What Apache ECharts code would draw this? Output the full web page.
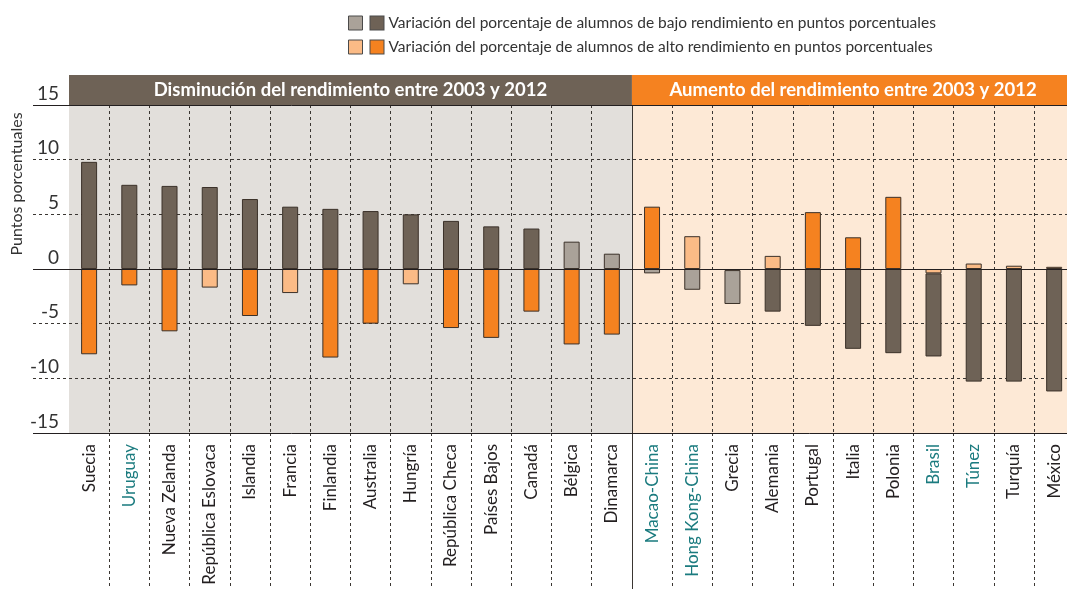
<!DOCTYPE html>
<html>
<head>
    <meta charset="utf-8">
    <title>Variación de alumnos de bajo y alto rendimiento 2003-2012</title>
    <script src="https://cdn.jsdelivr.net/npm/echarts@6.0.0/dist/echarts.min.js"></script>
    <style>
        html, body { margin: 0; padding: 0; background: #fff; }
        #main { width: 1067px; height: 589px; }
    </style>
</head>
<body>
<div id="main"></div>
<script>
    // datos
    var paises = ['Suecia', 'Uruguay', 'Nueva Zelanda', 'República Eslovaca', 'Islandia', 'Francia',
        'Finlandia', 'Australia', 'Hungría', 'República Checa', 'Países Bajos', 'Canadá', 'Bélgica',
        'Dinamarca', 'Macao-China', 'Hong Kong-China', 'Grecia', 'Alemania', 'Portugal', 'Italia',
        'Polonia', 'Brasil', 'Túnez', 'Turquía', 'México'];
    var paisesAsociados = ['Uruguay', 'Macao-China', 'Hong Kong-China', 'Brasil', 'Túnez'];
    var bajo = [9.8, 7.7, 7.6, 7.5, 6.4, 5.7, 5.5, 5.3, 5.0, 4.4, 3.9, 3.7, 2.5, 1.4,
        -0.4, -1.9, -3.1, -3.9, -5.2, -7.3, -7.7, -7.6, -10.3, -10.3, -11.2];
    var bajoSignif = [1, 1, 1, 1, 1, 1, 1, 1, 1, 1, 1, 1, 0, 0,
        0, 0, 0, 1, 1, 1, 1, 1, 1, 1, 1];
    var alto = [-7.8, -1.5, -5.7, -1.7, -4.3, -2.2, -8.1, -5.0, -1.4, -5.4, -6.3, -3.9, -6.9, -6.0,
        5.7, 3.0, -0.1, 1.2, 5.2, 2.9, 6.6, -0.4, 0.5, 0.3, 0.2];
    var altoSignif = [1, 1, 1, 0, 1, 0, 1, 1, 0, 1, 1, 1, 1, 1,
        1, 0, 1, 0, 1, 1, 1, 0, 0, 0, 0];
    var nDisminucion = 14;   // paises del primer panel
    var paneles = ['Disminución del rendimiento entre 2003 y 2012', 'Aumento del rendimiento entre 2003 y 2012'];
    var leyenda = ['Variación del porcentaje de alumnos de bajo rendimiento en puntos porcentuales',
        'Variación del porcentaje de alumnos de alto rendimiento en puntos porcentuales'];
    var yMin = -15, yMax = 15, yPaso = 5;

    var colBajo = ['#6e6256', '#aaa299'];
    var colAlto = ['#f58220', '#fbbb86'];
    var fuente = 'Lato';
    var guiones = { color: '#3a3632', width: 1, type: [3, 3] };

    function puntos(valores, signif, colores, desde, hasta) {
        return valores.slice(desde, hasta).map(function (v, i) {
            return { value: v, itemStyle: { color: signif[desde + i] ? colores[0] : colores[1] } };
        });
    }

    var catL = paises.slice(0, nDisminucion);
    var catR = paises.slice(nDisminucion);
    var anchoCat = 40.21;
    var xL = 69, xR = xL + catL.length * anchoCat;

    var myChart = echarts.init(document.getElementById('main'));

    function ejeCat(datos, gi, etiquetas) {
        return {
            type: 'category', gridIndex: gi, data: datos,
            axisLine: { show: false }, axisTick: { show: false },
            axisLabel: {
                show: etiquetas, rotate: 90, margin: 11, fontSize: 17, fontFamily: fuente,
                color: function (v) { return paisesAsociados.indexOf(v) >= 0 ? '#1b7b7f' : '#231f20'; }
            },
            splitLine: { show: true, showMinLine: false, lineStyle: guiones }
        };
    }

    var barra = { type: 'bar', barWidth: 16, itemStyle: { borderColor: '#3b3129', borderWidth: 1 } };
    var sinLimite = { outerBoundsMode: 'none', containLabel: false };

    var option = {
        animation: false,
        grid: [
            { left: 33, top: 105, width: 1041, height: 328 },                  // marco
            { left: xL, top: 105, width: xR - xL, height: 328, show: true, backgroundColor: '#e2dfdb', borderWidth: 0 },
            { left: xR, top: 105, width: catR.length * anchoCat, height: 328, show: true, backgroundColor: '#fde9d6', borderWidth: 0 },
            { left: xL, top: 433, width: xR - xL, height: 156 },
            { left: xR, top: 433, width: catR.length * anchoCat, height: 156 },
            { left: xL, top: 75, width: paises.length * anchoCat, height: 30 }    // cabeceras
        ].map(function (g) { return echarts.util.extend(g, sinLimite); }),
        legend: {
            orient: 'vertical', left: 348, top: 15, padding: 0, itemGap: 8, itemWidth: 14, itemHeight: 14,
            icon: 'rect', selectedMode: false,
            data: [
                { name: 'bajo', itemStyle: { color: colBajo[1], borderColor: '#4a4a4a', borderWidth: 1 } },
                { name: 'alto', itemStyle: { color: colAlto[1], borderColor: '#4a4a4a', borderWidth: 1 } }
            ],
            formatter: function (n) {
                return n === 'bajo' ? '{g|}{b|}{h|}' + leyenda[0] : '{g|}{a|}{h|}' + leyenda[1];
            },
            textStyle: {
                fontSize: 15.5, fontFamily: fuente, color: '#333',
                rich: {
                    g: { width: 3 },
                    h: { width: 5 },
                    b: { width: 13, height: 13, backgroundColor: colBajo[0], borderColor: '#4a4a4a', borderWidth: 1 },
                    a: { width: 13, height: 13, backgroundColor: colAlto[0], borderColor: '#4a4a4a', borderWidth: 1 }
                }
            }
        },
        xAxis: [
            { type: 'value', gridIndex: 0, min: 0, max: 1, show: false },
            ejeCat(catL, 1, true),
            ejeCat(catR, 2, true),
            ejeCat(catL, 3, false),
            ejeCat(catR, 4, false),
            { type: 'value', gridIndex: 5, min: 0, max: paises.length, show: false }
        ],
        yAxis: [
            {
                type: 'value', gridIndex: 0, min: yMin, max: yMax, interval: yPaso,
                axisLabel: { show: false }, axisLine: { show: false }, axisTick: { show: false },
                splitLine: { show: true, showMinLine: false, showMaxLine: false, lineStyle: guiones },
                name: 'Puntos porcentuales', nameLocation: 'middle', nameGap: 8,
                nameTextStyle: { fontSize: 16, fontFamily: fuente, color: '#333', padding: [0, 0, 0, 170] }
            },
            {
                type: 'value', gridIndex: 1, min: yMin, max: yMax, interval: yPaso,
                axisLine: { show: false }, axisTick: { show: false }, splitLine: { show: false },
                axisLabel: { margin: 10, fontSize: 19, fontFamily: fuente, color: '#333', verticalAlign: 'bottom', padding: [0, 0, 2, 0] }
            },
            {
                type: 'value', gridIndex: 2, min: yMin, max: yMax, interval: yPaso,
                axisLabel: { show: false }, axisTick: { show: false }, splitLine: { show: false },
                axisLine: { show: true, lineStyle: { color: '#3a3632', width: 1 } }
            },
            { type: 'value', gridIndex: 3, show: false },
            {
                type: 'value', gridIndex: 4, axisLabel: { show: false }, axisTick: { show: false }, splitLine: { show: false },
                axisLine: { show: true, lineStyle: { color: '#3a3632', width: 1 } }
            },
            { type: 'category', gridIndex: 5, data: ['cab'], show: false }
        ],
        series: [
            {
                type: 'line', xAxisIndex: 0, yAxisIndex: 0, data: [], silent: true,
                markLine: {
                    silent: true, symbol: 'none', label: { show: false },
                    lineStyle: { color: '#231f20', width: 1, type: 'solid' },
                    data: [{ yAxis: yMax }, { yAxis: 0 }, { yAxis: yMin }]
                }
            },
            echarts.util.merge({ name: 'alto', xAxisIndex: 1, yAxisIndex: 1, stack: 'L',
                data: puntos(alto, altoSignif, colAlto, 0, nDisminucion) }, barra),
            echarts.util.merge({ name: 'bajo', xAxisIndex: 1, yAxisIndex: 1, stack: 'L',
                data: puntos(bajo, bajoSignif, colBajo, 0, nDisminucion) }, barra),
            echarts.util.merge({ name: 'alto', xAxisIndex: 2, yAxisIndex: 2, stack: 'R',
                data: puntos(alto, altoSignif, colAlto, nDisminucion, paises.length) }, barra),
            echarts.util.merge({ name: 'bajo', xAxisIndex: 2, yAxisIndex: 2, stack: 'R',
                data: puntos(bajo, bajoSignif, colBajo, nDisminucion, paises.length) }, barra),
            {
                type: 'bar', name: paneles[0], xAxisIndex: 5, yAxisIndex: 5, stack: 'cab', barWidth: '100%',
                data: [catL.length], itemStyle: { color: colBajo[0] }, silent: true,
                label: { show: true, position: 'inside', formatter: paneles[0], color: '#fff', fontSize: 18.5, fontWeight: 'bold', fontFamily: fuente }
            },
            {
                type: 'bar', name: paneles[1], xAxisIndex: 5, yAxisIndex: 5, stack: 'cab', barWidth: '100%',
                data: [catR.length], itemStyle: { color: colAlto[0] }, silent: true,
                label: { show: true, position: 'inside', formatter: paneles[1], color: '#fff', fontSize: 18.5, fontWeight: 'bold', fontFamily: fuente }
            }
        ]
    };
    myChart.setOption(option);
</script>
</body>
</html>
